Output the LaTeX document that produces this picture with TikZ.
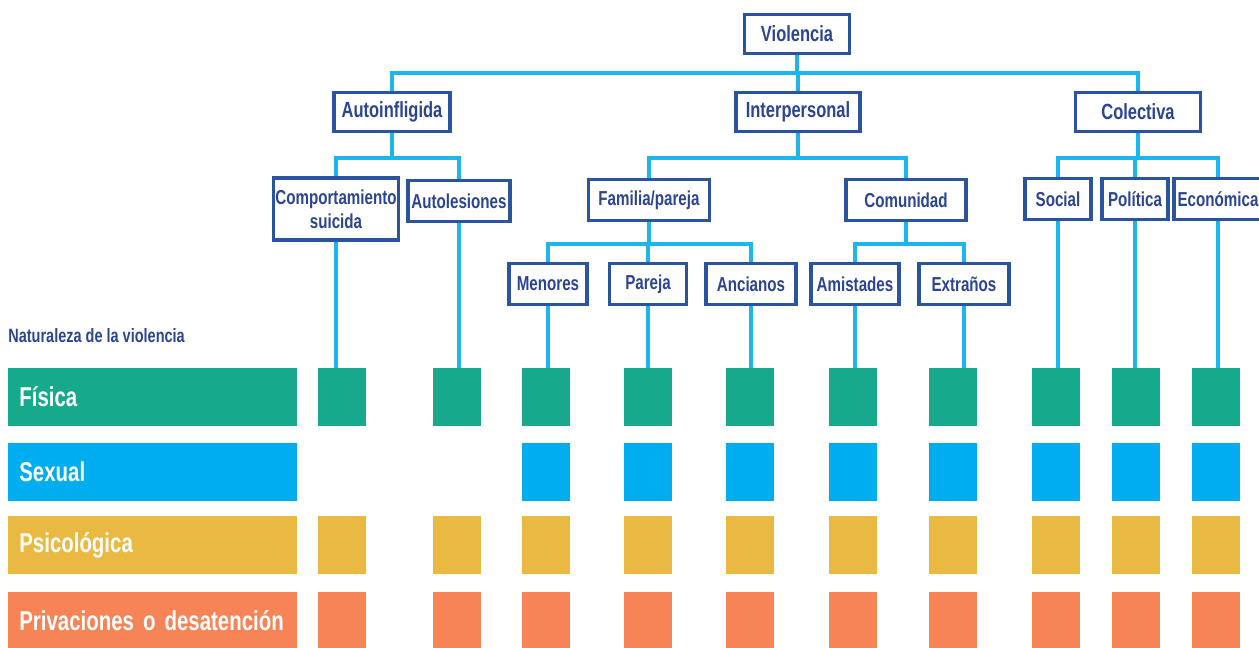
\documentclass[tikz,border=0pt]{standalone}
\usepackage{fontspec}
\setmainfont{Liberation Sans}[FakeStretch=0.75]
\usetikzlibrary{positioning}

\definecolor{boxblue}{HTML}{2B54A0}
\definecolor{txtblue}{HTML}{2C4592}
\definecolor{linkblue}{HTML}{1AB6EC}
\definecolor{fis}{HTML}{16A98B}
\definecolor{sex}{HTML}{00AEEF}
\definecolor{psi}{HTML}{E9B941}
\definecolor{pri}{HTML}{F68457}

\newcommand\narrowsp{\spaceskip 0.2em\relax}

\tikzset{
  box/.style={draw=boxblue, line width=1.8pt, fill=white, text=txtblue, inner sep=0pt,
    align=center, minimum height=0.82cm, font=\bfseries\fontsize{11.5}{13.5}\selectfont},
  topbox/.style={box, minimum height=0.77cm, font=\bfseries\fontsize{12.5}{14}\selectfont},
  link/.style={draw=linkblue, line width=1.8pt},
  sq/.style={minimum width=0.96cm, minimum height=1.16cm, inner sep=0pt},
  bar/.style={anchor=west, minimum height=1.16cm, text width=5.34cm, inner xsep=0.22cm,
    align=left, text=white, font=\bfseries\fontsize{15.5}{17}\selectfont\narrowsp}
}

\begin{document}
\begin{tikzpicture}[x=0.02cm,y=-0.02cm]
  \useasboundingbox (0,0) rectangle (1259,647);

  \node[topbox, minimum width=2.1cm] (viol) at (797,34) {Violencia};
  \node[topbox, minimum width=2.32cm] (auto) at (392,112) {Autoinfligida};
  \node[topbox, minimum width=2.48cm] (inter) at (798,112) {Interpersonal};
  \node[topbox, minimum width=2.5cm] (colec) at (1138,112) {Colectiva};

  \node[box, minimum width=2.5cm, minimum height=1.24cm] (comp) at (336,209) {Comportamiento\\suicida};
  \node[box, minimum width=2.04cm] (autol) at (459,201) {Autolesiones};
  \node[box, minimum width=2.42cm] (fam) at (649,200) {Familia/pareja};
  \node[box, minimum width=2.4cm] (comu) at (906,200) {Comunidad};
  \node[box, minimum width=1.32cm] (social) at (1058,199) {Social};
  \node[box, minimum width=1.32cm] (pol) at (1135,199) {Política};
  \node[box, minimum width=1.76cm] (econ) at (1218,199) {Económica};

  \node[box, minimum width=1.56cm] (men) at (548,284) {Menores};
  \node[box, minimum width=1.54cm] (par) at (648,284) {Pareja};
  \node[box, minimum width=1.8cm] (anc) at (751,284) {Ancianos};
  \node[box, minimum width=1.76cm] (ami) at (855,284) {Amistades};
  \node[box, minimum width=1.8cm] (ext) at (964,284) {Extraños};

  \coordinate (b1) at (0,73);
  \coordinate (b2) at (0,158);
  \coordinate (b3) at (0,244);

  \draw[link] (viol.south) -- (viol.south |- b1);
  \draw[link] (auto.north) |- (b1 -| colec) -- (colec.north);
  \draw[link] (inter.north) -- (inter.north |- b1);

  \draw[link] (auto.south) -- (auto.south |- b2);
  \draw[link] (comp.north) |- (b2 -| autol) -- (autol.north);
  \draw[link] (inter.south) -- (inter.south |- b2);
  \draw[link] (fam.north) |- (b2 -| comu) -- (comu.north);
  \draw[link] (colec.south) -- (colec.south |- b2);
  \draw[link] (social.north) |- (b2 -| econ) -- (econ.north);
  \draw[link] (pol.north) -- (pol.north |- b2);

  \draw[link] (fam.south) -- (fam.south |- b3);
  \draw[link] (men.north) |- (b3 -| anc) -- (anc.north);
  \draw[link] (par.north) -- (par.north |- b3);
  \draw[link] (comu.south) -- (comu.south |- b3);
  \draw[link] (ami.north) |- (b3 -| ext) -- (ext.north);

  \node[anchor=west, inner sep=0pt, text=txtblue, font=\bfseries\fontsize{11}{12}\selectfont]
    (nat) at (8,336) {Naturaleza de la violencia};
  \node[bar, fill=fis] (fisica) at (8,397) {Física};
  \node[bar, fill=sex] (sexual) at (8,472) {Sexual};
  \node[bar, fill=psi] (psico) at (8,545) {Psicológica};
  \node[bar, fill=pri] (priv) at (8,621) {Privaciones o desatención};

  \foreach \n/\x [count=\i] in {comp/342,autol/457,men/546,par/648,anc/750,ami/853,ext/953,social/1056,pol/1136,econ/1216}{
    \node[sq, fill=fis] (f\i) at (\x,397) {};
    \ifnum\i>2 \node[sq, fill=sex] (s\i) at (\x,472) {}; \fi
    \node[sq, fill=psi] (p\i) at (\x,545) {};
    \node[sq, fill=pri] (d\i) at (\x,621) {};
    \draw[link] (\n.south) -- (\n.south |- f\i.north);
  }
\end{tikzpicture}
\end{document}
